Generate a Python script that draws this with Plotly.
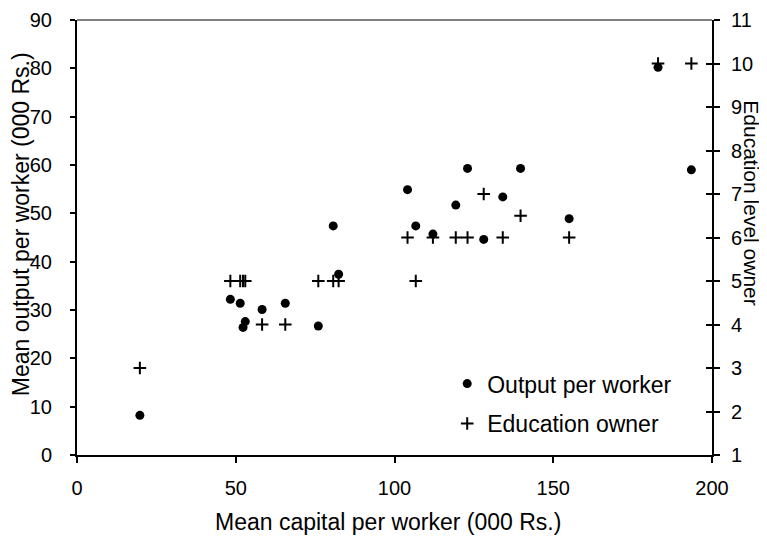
import plotly.graph_objects as go

capital = [19.8, 48.3, 51.4, 52.3, 53.0, 58.3, 65.6, 76.0, 80.7, 82.4, 104.1,
           106.7, 112.1, 119.3, 123.0, 128.1, 134.1, 139.7, 155.0, 183.0, 193.5]
output = [8.2, 32.2, 31.4, 26.4, 27.6, 30.1, 31.4, 26.7, 47.4, 37.4, 54.9,
          47.4, 45.7, 51.7, 59.3, 44.6, 53.4, 59.3, 48.9, 80.2, 59.0]
education = [3, 5, 5, 5, 5, 4, 4, 5, 5, 5, 6,
             5, 6, 6, 6, 7, 6, 6.5, 6, 10, 10]

x_ticks = [0, 50, 100, 150, 200]
y_ticks = [0, 10, 20, 30, 40, 50, 60, 70, 80, 90]
y2_ticks = [1, 2, 3, 4, 5, 6, 7, 8, 9, 10, 11]

FONT = "Liberation Sans, Arial, sans-serif"
TICK = 20
TITLE = 23

fig = go.Figure()
fig.add_trace(go.Scatter(
    x=capital, y=output, mode="markers", name="Output per worker",
    legendgroup="a",
    marker=dict(symbol="circle", size=9, color="black"),
    yaxis="y"))
fig.add_trace(go.Scatter(
    x=capital, y=education, mode="markers", name="Education owner",
    legendgroup="b",
    marker=dict(symbol="cross-thin", size=9, color="black",
                line=dict(color="black", width=2)),
    yaxis="y2"))

# page body has an 8px margin; figure sized to fit the 767x537 window
fig.update_layout(
    width=759, height=529,
    margin=dict(l=69, r=55, t=12, b=82),
    paper_bgcolor="white", plot_bgcolor="white",
    font=dict(family=FONT, size=TICK, color="black"),
    showlegend=True,
    legend=dict(x=0.583, y=0.2135, xanchor="left", yanchor="top",
                bgcolor="rgba(0,0,0,0)", font=dict(size=TITLE),
                itemwidth=30, tracegroupgap=7),
    xaxis=dict(range=[0, 200], tickvals=x_ticks, showgrid=False, zeroline=False,
               showline=True, linecolor="black", linewidth=2, automargin=False,
               ticks="outside", ticklen=6, tickwidth=1.5, tickcolor="black",
               ticklabelstandoff=8),
    yaxis=dict(range=[0, 90], tickvals=y_ticks, showgrid=False, zeroline=False,
               showline=True, linecolor="black", linewidth=2, automargin=False,
               ticks="outside", ticklen=5, tickwidth=1.5, tickcolor="black",
               ticklabelstandoff=14),
    yaxis2=dict(range=[1, 11], tickvals=y2_ticks, overlaying="y", side="right",
                showgrid=False, zeroline=False, automargin=False,
                showline=True, linecolor="black", linewidth=2,
                ticks="outside", ticklen=6, tickwidth=1.5, tickcolor="black",
                ticklabelstandoff=7),
    yaxis3=dict(range=[1, 11], tickvals=y2_ticks, overlaying="y", side="right",
                showgrid=False, zeroline=False, showticklabels=False,
                automargin=False,
                showline=False, ticks="inside", ticklen=6, tickwidth=1.5,
                tickcolor="black"),
    shapes=[dict(type="line", xref="paper", yref="paper", x0=0, x1=1, y0=1, y1=1,
                 line=dict(color="#808080", width=2))],
    annotations=[
        dict(text="Mean capital per worker (000 Rs.)", xref="paper", yref="paper",
             x=0.49, y=-0.155, xanchor="center", yanchor="middle", showarrow=False,
             font=dict(size=TITLE)),
        dict(text="Mean output per worker (000 Rs.)", xref="paper", yref="paper",
             x=-0.087, y=0.53, xanchor="center", yanchor="middle", showarrow=False,
             textangle=-90, font=dict(size=TITLE)),
        dict(text="Education level owner", xref="paper", yref="paper",
             x=1.062, y=0.58, xanchor="center", yanchor="middle", showarrow=False,
             textangle=90, font=dict(size=21)),
    ],
)
# dummy trace to activate yaxis3 for inside ticks
fig.add_trace(go.Scatter(x=[None], y=[None], yaxis="y3", showlegend=False,
                         hoverinfo="skip"))

fig.write_html("out.html")
